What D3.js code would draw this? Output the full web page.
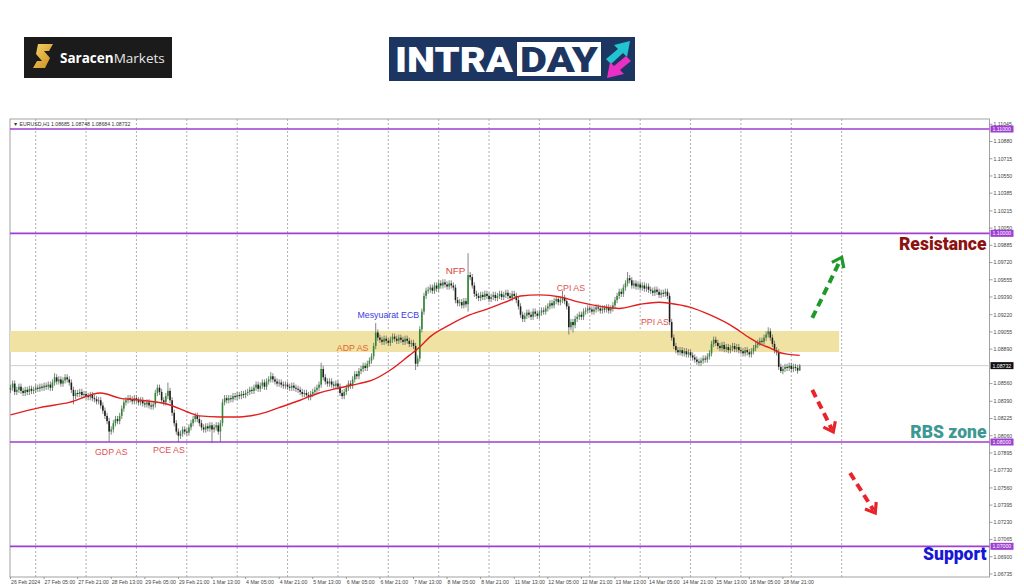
<!DOCTYPE html>
<html>
<head>
<meta charset="utf-8">
<script src="https://cdn.jsdelivr.net/npm/d3@7"></script>
<style>
  html, body { margin: 0; padding: 0; background: #fff; }
  svg { display: block; font-family: "Liberation Sans", Arial, sans-serif; }
</style>
</head>
<body>
<svg id="canvas"></svg>
<script>
// Set up SVG dimensions
const width = 1024;
const height = 587;

const svg = d3.select("#canvas")
    .attr("width", width)
    .attr("height", height);

// ---- data ----
const symbolInfo = "EURUSD,H1 1.08685 1.08748 1.08684 1.08732";
const basePrice = 1.08;      // closes below are in pips above this
const firstOpenPips = 50;

// H1 closes, 26 Feb 13:00 .. 19 Mar 05:00 (pips above 1.08000)
const closePips = [
    52, 56, 48, 50, 53, 49, 47, 50, 48, 51, 49, 50, 52, 51, 53,
    52, 54, 53, 55, 52, 57, 62, 58, 60, 56, 59, 62, 60, 57,
    50, 44, 47, 46, 48, 45, 46, 44, 43, 45, 42, 41, 39,
    40, 35, 30, 25, 20, 10, 12, 18, 22, 20, 25, 32, 38, 40, 42,
    41, 39, 42, 40, 38, 40, 37, 36, 38, 35,
    34, 36, 47, 52, 48, 40, 38, 44, 49, 40,
    28, 18, 10, 6, 8, 12, 10, 9, 14, 18, 22, 25, 22, 18,
    14, 12, 15, 13, 16, 12, 14, 16, 10, 18, 38, 42,
    40, 42, 41, 44, 43, 45, 44, 46, 45, 47, 48, 50, 49, 52, 55, 51,
    54, 57, 53, 58, 60, 63, 60,
    58, 56, 57, 55, 54, 55, 53, 52, 54, 52, 51, 50,
    48, 46, 47, 45, 43, 46, 48, 50, 52, 55, 70, 62, 58,
    56, 58, 55, 54, 56, 53, 47, 44, 48,
    52, 56, 54, 60, 65, 63, 68, 70, 73, 71, 75, 78, 82,
    92, 105, 100, 98,
    96, 99, 97, 95, 98, 101, 99, 97, 100, 98, 96, 99, 97, 94,
    95, 92, 75, 80, 108, 125, 140, 145,
    146, 148, 145, 150, 147, 152, 150, 153, 151, 149, 152, 150, 148,
    136, 133, 134, 131, 135, 132, 160, 158, 150, 142,
    140, 138, 141, 139, 142, 140, 137, 139, 141, 138, 140, 142, 139, 141, 143, 140, 138,
    142, 140, 136, 130, 122,
    118, 121, 124, 122, 120, 125, 123, 121, 124, 126, 125,
    128, 130, 133, 131, 135, 137, 134, 136, 138, 135, 130,
    110, 115, 112, 118, 120, 122, 120, 125,
    126, 128, 127, 125, 127, 129, 128, 126, 128, 127, 129, 126, 128,
    131, 136, 140, 144, 142, 148, 152, 157, 155,
    150, 152, 149, 151, 148, 150, 147, 149, 146,
    145, 143, 146, 144, 141, 143, 142, 144, 140,
    115, 100, 92, 88, 86, 88, 85, 87, 84, 86,
    83, 81, 79, 77, 76, 78, 80, 79, 82, 85,
    94, 98, 95,
    92, 90, 93, 89, 91, 88, 90, 92, 89, 91, 88,
    87, 85, 88, 86, 84, 87,
    90, 93, 95, 97, 96, 100, 103, 106, 100,
    94, 88, 86, 72, 68,
    70, 72, 71, 73, 70, 72, 71, 68.5, 73.2
];

// long wicks: [bar, pips]
const highMarks = [[21, 66], [70, 55], [75, 57], [124, 67], [148, 76], [174, 114],
    [218, 181], [263, 145], [294, 163], [361, 110], [376, 74.8]];
const lowMarks = [[30, 36], [47, 0], [80, 0], [96, -1], [100, 0], [193, 69],
    [218, 125], [266, 103], [268, 105], [367, 66], [376, 68.4]];

// moving average: [bar, pips]
const maKnots = [[0, 26], [14, 33], [28, 38], [43, 47], [52, 42], [62, 40], [76, 35.5],
    [84, 29], [90, 25], [100, 24], [109, 24], [119, 27], [128, 33], [138, 40], [147, 47],
    [157, 52], [166, 56], [172, 59], [181, 69], [190, 83], [195, 91], [200, 101],
    [209, 112], [219, 122], [228, 128], [238, 136], [243, 140], [252, 141], [262, 139],
    [271, 134], [281, 130], [290, 128], [300, 132], [309, 134], [314, 133], [324, 129],
    [333, 122], [343, 112], [352, 100], [357, 94], [362, 90], [366, 86], [371, 84], [376, 83]];

const timeLabels = ["26 Feb 2024", "27 Feb 05:00", "27 Feb 21:00", "28 Feb 13:00",
    "29 Feb 05:00", "29 Feb 21:00", "1 Mar 13:00", "4 Mar 05:00", "4 Mar 21:00",
    "5 Mar 13:00", "6 Mar 05:00", "6 Mar 21:00", "7 Mar 13:00", "8 Mar 05:00",
    "8 Mar 21:00", "11 Mar 13:00", "12 Mar 05:00", "12 Mar 21:00", "13 Mar 13:00",
    "14 Mar 05:00", "14 Mar 21:00", "15 Mar 13:00", "18 Mar 05:00", "18 Mar 21:00"];
const barsPerLabel = 16;
const gridBars = [12, 36, 60, 84, 108, 132, 156, 180, 204, 228, 252, 276, 300, 324, 348, 372, 396];

const priceTicks = [1.11045, 1.10880, 1.10715, 1.10550, 1.10385, 1.10215, 1.10050,
    1.09885, 1.09720, 1.09555, 1.09390, 1.09220, 1.09055, 1.08890, 1.08560, 1.08390,
    1.08225, 1.08060, 1.07895, 1.07730, 1.07560, 1.07395, 1.07230, 1.07065, 1.06900, 1.06735];
const levelLines = [1.11, 1.10, 1.08, 1.07];
const lastPrice = 1.08732;
const zoneRange = [1.08863, 1.09064];
const zoneEndBar = 395;

const eventNames = ["GDP AS", "PCE AS", "ADP AS", "Mesyuarat ECB", "NFP", "CPI AS", "PPI AS"];
const eventBars = [48, 75.5, 163, 180, 212, 267, 307];
const eventPrices = [1.07875, 1.07895, 1.0887, 1.0919, 1.0961, 1.0945, 1.0912];
const eventColors = ["#e2504f", "#e2504f", "#e8622e", "#3b3be0", "#e23c3c", "#e2504f", "#e2504f"];

// projected moves: [bar, price] start -> end
const arrowStarts = [[382, 1.09189], [382, 1.08499], [400, 1.07703]];
const arrowEnds = [[396, 1.0977], [392, 1.08096], [412, 1.0732]];
const arrowColors = ["#1f9a2a", "#e8232a", "#e8232a"];

const levelNames = ["Resistance", "RBS zone", "Support"];
const levelNamePrices = [1.09841, 1.08038, 1.06869];
const levelNameColors = ["#8c1212", "#3d9893", "#1717d6"];

// ---- scales ----
const chartLeft = 10, chartRight = 989.5, chartTop = 119, chartBottom = 577;
const x = d3.scaleLinear().domain([0, 466]).range([10.5, 988.6]);
const y = d3.scaleLinear().domain([1.08, 1.11]).range([442, 129]);
const pip = p => basePrice + p / 10000;

// ---- logos ----
const logo1 = svg.append("g");
logo1.append("rect").attr("x", 24).attr("y", 37).attr("width", 148).attr("height", 41).attr("fill", "#1b1b1b");
const grad = svg.append("defs").append("linearGradient").attr("id", "gold")
    .attr("x1", 0).attr("y1", 0).attr("x2", 1).attr("y2", 1);
grad.append("stop").attr("offset", "0%").attr("stop-color", "#f7d46a");
grad.append("stop").attr("offset", "100%").attr("stop-color", "#c98a1c");
logo1.append("path")
    .attr("d", "M38,44 L53,44 L49,51 L44,51 L50,58 L45,68 L33,68 L37,61 L42,61 L36,54 Z")
    .attr("fill", "url(#gold)");
const logoText = logo1.append("text").attr("x", 60).attr("y", 63)
    .attr("font-family", "'Open Sans', sans-serif").attr("font-size", 13.5).attr("fill", "#fff");
logoText.append("tspan").attr("font-weight", 700).text("Saracen");
logoText.append("tspan").attr("font-weight", 400).attr("fill", "#e6e6e6").text("Markets");

const logo2 = svg.append("g");
logo2.append("rect").attr("x", 389).attr("y", 37).attr("width", 246).attr("height", 44).attr("fill", "#1c3661");
logo2.append("text").attr("x", 395).attr("y", 72)
    .attr("font-family", "Roboto, sans-serif").attr("font-weight", 900).attr("font-size", 35)
    .attr("fill", "#fff").attr("textLength", 118).attr("lengthAdjust", "spacingAndGlyphs").text("INTRA");
logo2.append("rect").attr("x", 517).attr("y", 42).attr("width", 84).attr("height", 34).attr("fill", "#fff");
logo2.append("text").attr("x", 520).attr("y", 72)
    .attr("font-family", "Roboto, sans-serif").attr("font-weight", 900).attr("font-size", 35)
    .attr("fill", "#1c3661").attr("textLength", 78).attr("lengthAdjust", "spacingAndGlyphs").text("DAY");
logo2.append("polygon").attr("points", "606,59 618,49 614,45 630,41 627,57 623,53 611,64").attr("fill", "#22c4cf");
logo2.append("polygon").attr("points", "631,61 620,70 624,74 607,78 610,62 614,66 626,56").attr("fill", "#e92fc4");

// ---- chart frame ----
svg.append("rect")
    .attr("x", chartLeft).attr("y", chartTop)
    .attr("width", chartRight - chartLeft).attr("height", chartBottom - chartTop)
    .attr("fill", "#fff").attr("stroke", "#8a8a8a").attr("stroke-width", 0.8);

// vertical dashed grid
svg.append("g").selectAll("line")
    .data(gridBars)
    .enter().append("line")
    .attr("x1", d => x(d)).attr("x2", d => x(d))
    .attr("y1", chartTop).attr("y2", chartBottom)
    .attr("stroke", "#9a9a9a").attr("stroke-width", 0.8)
    .attr("stroke-dasharray", "2,2");

// RBS zone rectangle
svg.append("rect")
    .attr("x", x(0) - 0.5).attr("y", y(zoneRange[1]))
    .attr("width", x(zoneEndBar) - x(0)).attr("height", y(zoneRange[0]) - y(zoneRange[1]))
    .attr("fill", "#efe2a2");

// horizontal levels
svg.append("g").selectAll("line")
    .data(levelLines)
    .enter().append("line")
    .attr("x1", chartLeft).attr("x2", chartRight)
    .attr("y1", d => y(d)).attr("y2", d => y(d))
    .attr("stroke", "#9d3fd2").attr("stroke-width", 1.6);

svg.append("line")
    .attr("x1", chartLeft).attr("x2", chartRight)
    .attr("y1", y(lastPrice)).attr("y2", y(lastPrice))
    .attr("stroke", "#cfcfcf").attr("stroke-width", 1);

// ---- candles ----
const wickPips = 3;
const highMap = new Map(highMarks), lowMap = new Map(lowMarks);
const candles = closePips.map((c, i) => {
    const o = i === 0 ? firstOpenPips : closePips[i - 1];
    const h = highMap.has(i) ? highMap.get(i) : Math.max(o, c) + wickPips;
    const l = lowMap.has(i) ? lowMap.get(i) : Math.min(o, c) - wickPips;
    return { i, open: pip(o), close: pip(c), high: pip(h), low: pip(l) };
});

const candleG = svg.append("g");
candleG.selectAll("line")
    .data(candles)
    .enter().append("line")
    .attr("x1", d => x(d.i)).attr("x2", d => x(d.i))
    .attr("y1", d => y(d.high)).attr("y2", d => y(d.low))
    .attr("stroke", "#666").attr("stroke-width", 0.8);
candleG.selectAll("rect")
    .data(candles)
    .enter().append("rect")
    .attr("x", d => x(d.i) - 0.8).attr("width", 1.6)
    .attr("y", d => y(Math.max(d.open, d.close)))
    .attr("height", d => Math.max(1, Math.abs(y(d.open) - y(d.close))))
    .attr("fill", d => d.close >= d.open ? "#2f8a35" : "#1e1e1e");

// moving average
svg.append("path")
    .datum(maKnots)
    .attr("d", d3.line().x(d => x(d[0])).y(d => y(pip(d[1]))).curve(d3.curveMonotoneX))
    .attr("fill", "none").attr("stroke", "#e31e1e").attr("stroke-width", 1.4);

// event labels
svg.append("g").selectAll("text")
    .data(eventNames)
    .enter().append("text")
    .attr("x", (d, i) => x(eventBars[i])).attr("y", (d, i) => y(eventPrices[i]))
    .attr("text-anchor", "middle")
    .attr("font-size", (d) => d === "NFP" ? 9.8 : 8.8)
    .attr("fill", (d, i) => eventColors[i])
    .text(d => d);

// dashed projection arrows
arrowStarts.forEach((s, k) => {
    const x0 = x(s[0]), y0 = y(s[1]);
    const x1 = x(arrowEnds[k][0]), y1 = y(arrowEnds[k][1]);
    const ang = Math.atan2(y1 - y0, x1 - x0);
    const g = svg.append("g").attr("stroke", arrowColors[k]).attr("fill", "none");
    g.append("line")
        .attr("x1", x0).attr("y1", y0)
        .attr("x2", x1 - 3 * Math.cos(ang)).attr("y2", y1 - 3 * Math.sin(ang))
        .attr("stroke-width", 4).attr("stroke-dasharray", "8,5");
    const len = 11, spread = 0.65;
    const p1 = [x1 - len * Math.cos(ang - spread), y1 - len * Math.sin(ang - spread)];
    const p2 = [x1 - len * Math.cos(ang + spread), y1 - len * Math.sin(ang + spread)];
    g.append("path")
        .attr("d", `M${p1[0]},${p1[1]} L${x1},${y1} L${p2[0]},${p2[1]}`)
        .attr("stroke-width", 3.2).attr("stroke-linejoin", "miter");
});

// big level names
svg.append("g").selectAll("text")
    .data(levelNames)
    .enter().append("text")
    .attr("x", chartRight - 3).attr("y", (d, i) => y(levelNamePrices[i]))
    .attr("text-anchor", "end")
    .attr("font-family", "Roboto, sans-serif").attr("font-weight", 900)
    .attr("font-size", 17.5)
    .attr("fill", (d, i) => levelNameColors[i])
    .text(d => d);

// header
svg.append("text")
    .attr("x", 13).attr("y", 126)
    .attr("font-size", 5.2).attr("fill", "#333")
    .text("\u25BC " + symbolInfo);

// ---- price axis ----
const axisG = svg.append("g");
axisG.selectAll("line")
    .data(priceTicks)
    .enter().append("line")
    .attr("x1", chartRight).attr("x2", chartRight + 3)
    .attr("y1", d => y(d)).attr("y2", d => y(d))
    .attr("stroke", "#777").attr("stroke-width", 0.7);
axisG.selectAll("text")
    .data(priceTicks)
    .enter().append("text")
    .attr("x", chartRight + 4).attr("y", d => y(d) + 1.8)
    .attr("font-size", 5.2).attr("fill", "#444")
    .text(d => d.toFixed(5));

const tagG = svg.append("g");
levelLines.forEach(v => {
    tagG.append("rect").attr("x", chartRight + 1).attr("y", y(v) - 3.5)
        .attr("width", 23).attr("height", 7).attr("fill", "#9d3fd2");
    tagG.append("text").attr("x", chartRight + 3).attr("y", y(v) + 1.9)
        .attr("font-size", 5.2).attr("fill", "#fff").text(v.toFixed(5));
});
tagG.append("rect").attr("x", chartRight + 1).attr("y", y(lastPrice) - 3.5)
    .attr("width", 23).attr("height", 7).attr("fill", "#111");
tagG.append("text").attr("x", chartRight + 3).attr("y", y(lastPrice) + 1.9)
    .attr("font-size", 5.2).attr("fill", "#fff").text(lastPrice.toFixed(5));

// ---- time axis ----
const timeG = svg.append("g");
timeG.selectAll("line")
    .data(timeLabels)
    .enter().append("line")
    .attr("x1", (d, i) => x(i * barsPerLabel)).attr("x2", (d, i) => x(i * barsPerLabel))
    .attr("y1", chartBottom).attr("y2", chartBottom + 2)
    .attr("stroke", "#777").attr("stroke-width", 0.7);
timeG.selectAll("text")
    .data(timeLabels)
    .enter().append("text")
    .attr("x", (d, i) => x(i * barsPerLabel) + 0.5).attr("y", chartBottom + 7)
    .attr("font-size", 5.2).attr("fill", "#444")
    .text(d => d);
</script>
</body>
</html>
